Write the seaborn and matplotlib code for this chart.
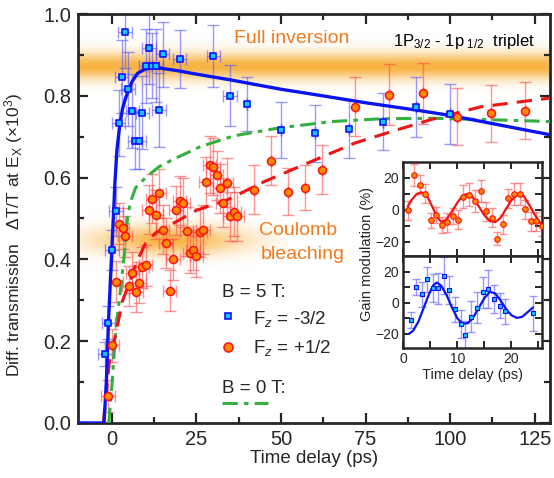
import numpy as np
import matplotlib
matplotlib.use("Agg")
import matplotlib.pyplot as plt
import seaborn as sns

# ---- main panel data ----
blue_t = [-2.0, -1.0, 0.0, 1.2, 2.0, 2.9, 3.9, 4.8, 6.1, 6.9, 8.1, 9.0, 10.0, 11.0,
          12.0, 13.0, 14.0, 15.0, 20.0, 30.0, 35.0, 40.0, 50.0, 60.0, 70.0, 80.0, 90.0, 100.0]
blue_y = [0.169, 0.245, 0.423, 0.518, 0.733, 0.847, 0.957, 0.817, 0.763, 0.690, 0.690, 0.759,
          0.873, 0.918, 0.874, 0.874, 0.765, 0.901, 0.890, 0.897, 0.800, 0.781, 0.717, 0.708,
          0.719, 0.737, 0.772, 0.755]
blue_err = [0.03, 0.04, 0.05, 0.06, 0.08, 0.09, 0.09, 0.09, 0.09, 0.07, 0.07, 0.09, 0.09, 0.09,
            0.08, 0.09, 0.09, 0.08, 0.07, 0.075, 0.075, 0.066, 0.068, 0.07, 0.07, 0.07, 0.073, 0.073]

red_t = [-1.1, 0.1, 1.2, 2.1, 3.2, 3.9, 5.1, 6.1, 7.1, 8.1, 9.0, 10.0, 11.0, 12.0, 13.0, 14.0,
         15.0, 15.9, 17.1, 18.1, 18.9, 20.0, 21.0, 22.1, 23.0, 24.0, 25.0, 26.0, 26.9, 27.9,
         28.9, 29.9, 31.0, 31.9, 32.9, 33.9, 35.0, 36.1, 37.1, 42.0, 47.0, 52.0, 57.0, 62.0,
         72.0, 82.0, 92.0, 102.0, 112.0, 122.0]
red_y = [0.066, 0.190, 0.345, 0.487, 0.476, 0.457, 0.335, 0.367, 0.321, 0.343, 0.381, 0.386,
         0.521, 0.548, 0.509, 0.562, 0.472, 0.440, 0.323, 0.400, 0.520, 0.543, 0.538, 0.469,
         0.416, 0.423, 0.408, 0.466, 0.472, 0.590, 0.632, 0.627, 0.606, 0.574, 0.539, 0.588,
         0.505, 0.517, 0.506, 0.570, 0.641, 0.566, 0.575, 0.619, 0.773, 0.803, 0.806, 0.749,
         0.757, 0.764]
red_err = [0.04, 0.04, 0.05, 0.05, 0.05, 0.05, 0.05, 0.05, 0.05, 0.05, 0.05, 0.05,
           0.06, 0.06, 0.06, 0.06, 0.06, 0.06, 0.05, 0.05, 0.06, 0.06, 0.06, 0.06,
           0.05, 0.05, 0.05, 0.06, 0.06, 0.06, 0.07, 0.07, 0.06, 0.06, 0.06, 0.06,
           0.06, 0.06, 0.06, 0.06, 0.06, 0.057, 0.055, 0.06, 0.072, 0.075, 0.075, 0.07,
           0.07, 0.07]
early_xerr = 2.0

# fitted curves
fit_blue_t = [-10, -2.3, -1.6, -1.0, 0.0, 0.5, 0.9, 1.5, 2.4, 3.2, 4.1, 5.0, 6.0, 7.6, 10.0,
              13.0, 19.0, 25.0, 35.0, 50.0, 60.0, 75.0, 90.0, 100.0, 115.0, 130.0]
fit_blue_y = [0.0, 0.0, 0.105, 0.245, 0.423, 0.51, 0.586, 0.667, 0.733, 0.77, 0.795, 0.815,
              0.835, 0.855, 0.866, 0.869, 0.862, 0.853, 0.839, 0.816, 0.803, 0.783, 0.765,
              0.752, 0.728, 0.704]
fit_red_t = [-2.5, -0.8, 1.0, 3.2, 5.6, 7.1, 10.0, 13.0, 19.0, 25.0, 34.0, 45.0, 60.0,
             72.0, 84.0, 94.0, 109.0, 130.0]
fit_red_y = [0.0, 0.146, 0.211, 0.30, 0.35, 0.39, 0.44, 0.465, 0.492, 0.52, 0.545, 0.59,
             0.643, 0.685, 0.716, 0.741, 0.773, 0.795]
fit_green_t = [-0.9, 0.0, 1.2, 2.2, 3.4, 4.1, 4.6, 5.5, 7.0, 10.0, 14.0, 19.0, 26.0, 36.0,
               47.0, 50.0, 65.0, 80.0, 95.0, 114.0, 130.0]
fit_green_y = [0.0, 0.09, 0.23, 0.30, 0.39, 0.45, 0.50, 0.54, 0.575, 0.60, 0.627, 0.648,
               0.675, 0.702, 0.718, 0.722, 0.737, 0.744, 0.745, 0.741, 0.737]

# ---- inset data ----
in_red_t = [0.93, 1.98, 3.1, 4.0, 5.07, 6.05, 7.1, 8.15, 9.1, 10.2, 11.1, 12.2, 13.3, 14.3,
            15.3, 16.4, 17.4, 18.4, 19.4, 20.5, 21.5, 22.5, 23.6, 24.6, 25.6]
in_red_y = [-0.4, 22.0, 15.8, 10.0, -6.7, -3.1, -9.4, -7.7, -4.0, -6.3, 8.3, 9.6, 5.4, 11.6,
            -0.9, -5.0, -18.1, -9.2, 7.3, 10.0, 10.0, 0.2, -7.1, -7.1, -10.2]
in_red_err = [6, 7, 6, 6, 5, 5, 5, 6, 5, 6, 7, 7, 7, 7, 6, 6, 4, 6, 6, 7, 7, 6, 6, 6, 6]
in_blue_t = [1.36, 2.35, 3.4, 4.45, 5.4, 6.5, 7.5, 8.5, 9.6, 10.6, 11.5, 12.5, 13.6, 14.7,
             15.7, 16.7, 17.8, 18.8, 23.96]
in_blue_y = [-11.2, 10.3, 5.4, 15.0, 9.3, 9.3, 17.4, 8.2, -4.3, -13.7, -20.8, -9.0, -3.2,
             6.7, 8.8, 2.4, -1.9, -5.4, -6.8]
in_blue_err = [5, 5, 8, 8, 9, 10, 12, 9, 8, 9, 9, 10, 10, 10, 12, 9, 8, 8, 11]

in_fit_red_t = [0.8, 1.5, 2.5, 3.4, 4.5, 5.5, 6.3, 7.1, 8.0, 9.0, 10.0, 11.0, 11.8, 12.8,
                14.0, 15.0, 16.0, 17.0, 18.0, 19.0, 20.0, 21.3, 22.3, 23.3, 24.3, 25.3, 26.0]
in_fit_red_y = [2, 6, 10, 11, 8, 1, -5, -7.7, -6, -1, 4.5, 9, 10, 8, 2, -3.5, -7, -7.7,
                -5, 0.5, 6, 10, 8.5, 3, -3, -8, -10]
in_fit_blue_t = [1.0, 1.8, 2.8, 3.8, 4.8, 5.5, 6.2, 7.0, 8.0, 9.0, 10.0, 11.0, 12.0, 13.0,
                 14.0, 15.0, 16.0, 17.0, 18.0, 19.0, 20.0, 21.0, 22.0, 23.0, 24.0]
in_fit_blue_y = [-20, -18, -12, -3, 6, 11, 13, 11, 5, -3, -10, -13.5, -13, -9, -3, 3, 7,
                 6, 1.5, -4, -8, -9.7, -9, -6, -3]

ORANGE_GLOW = (0.97, 0.65, 0.13)
TXT_ORANGE = "#f47a1f"
BLUE = "#0a14f0"
RED = "#f01414"
GREEN = "#33b040"

sns.set_style("ticks")
plt.rcParams['font.family'] = ['Liberation Sans', 'DejaVu Sans']
plt.rcParams['mathtext.fontset'] = 'custom'
plt.rcParams['mathtext.rm'] = 'Liberation Sans'
plt.rcParams['mathtext.it'] = 'Liberation Sans:italic'

fig = plt.figure(figsize=(5.54, 4.78), dpi=100)
ax = fig.add_axes([0.1408, 0.1151, 0.852, 0.8556])

# orange glows
band_y = np.linspace(0.78, 0.96, 200)
band_a = np.exp(-((band_y - 0.872) / 0.032) ** 2) * 0.85
band = np.zeros((200, 2, 4))
band[..., :3] = ORANGE_GLOW
band[..., 3] = band_a[:, None]
ax.imshow(band, extent=[-10, 130, 0.78, 0.96], origin='lower', aspect='auto',
          interpolation='bilinear', zorder=0)
gx, gy = np.meshgrid(np.linspace(-16, 52, 200), np.linspace(0.35, 0.55, 120))
glow = np.zeros((120, 200, 4))
glow[..., :3] = ORANGE_GLOW
glow[..., 3] = 0.85 * np.exp(-((gx - 17) / 22.0) ** 2 - ((gy - 0.447) / 0.035) ** 2)
ax.imshow(glow, extent=[-16, 52, 0.35, 0.55], origin='lower', aspect='auto',
          interpolation='bilinear', zorder=0)

bt = np.array(blue_t)
rt = np.array(red_t)
ax.errorbar(blue_t, blue_y, yerr=blue_err, xerr=np.where(bt < 40, early_xerr, 0),
            fmt='none', ecolor=(0.35, 0.35, 1.0, 0.6), elinewidth=1.0, capsize=4.5, zorder=2)
ax.errorbar(red_t, red_y, yerr=red_err, xerr=np.where(rt < 40, early_xerr, 0),
            fmt='none', ecolor=(1.0, 0.3, 0.3, 0.6), elinewidth=1.0, capsize=4.5, zorder=2)

sns.lineplot(x=fit_green_t, y=fit_green_y, ax=ax, color=GREEN, lw=2.2, sort=False,
             estimator=None, linestyle=(0, (5, 2, 1.5, 2)), zorder=3)
sns.lineplot(x=fit_red_t, y=fit_red_y, ax=ax, color=RED, lw=2.2, sort=False,
             estimator=None, linestyle=(0, (5, 3)), zorder=3)
sns.lineplot(x=fit_blue_t, y=fit_blue_y, ax=ax, color=BLUE, lw=2.4, sort=False,
             estimator=None, zorder=4)

sns.scatterplot(x=red_t, y=red_y, ax=ax, marker='o', s=33, color='#ff8a00',
                edgecolor='#ff1010', linewidth=1.1, zorder=5)
sns.scatterplot(x=blue_t, y=blue_y, ax=ax, marker='s', s=20, color='#10c8ff',
                edgecolor='#1010ff', linewidth=1.2, zorder=6)

ax.set_xlim(-10, 129.5)
ax.set_ylim(0, 1.0)
ax.set_xticks([0, 25, 50, 75, 100, 125])
ax.set_xticks([12.5, 37.5, 62.5, 87.5, 112.5], minor=True)
ax.set_yticks([0.0, 0.2, 0.4, 0.6, 0.8, 1.0])
ax.set_yticks([0.1, 0.3, 0.5, 0.7, 0.9], minor=True)
ax.yaxis.set_major_formatter(matplotlib.ticker.FormatStrFormatter('%.1f'))
ax.tick_params(which='both', direction='in', top=True, right=True, width=1.6,
               labelsize=14.5, pad=5)
ax.tick_params(which='major', length=7)
ax.tick_params(which='minor', length=4)
for s in ax.spines.values():
    s.set_linewidth(2.0)
ax.set_xlabel('Time delay (ps)', fontsize=13.5, labelpad=1)
ax.set_ylabel('Diff. transmission   ΔT/T at E$_\\mathrm{X}$ (×10$^3$)', fontsize=12.5)
ax.yaxis.set_label_coords(-0.112, 0.46)

# annotations
ax.text(0.33, 0.929, 'Full inversion', color=TXT_ORANGE, fontsize=14, transform=ax.transAxes)
ax.text(0.667, 0.922, '1P$_{3/2}$ - 1p$_{\\ 1/2}$  triplet', color='black', fontsize=12,
        transform=ax.transAxes)
ax.text(0.383, 0.46, 'Coulomb', color=TXT_ORANGE, fontsize=14, transform=ax.transAxes)
ax.text(0.386, 0.40, 'bleaching', color=TXT_ORANGE, fontsize=14, transform=ax.transAxes)

# legend block
ax.text(0.305, 0.308, 'B = 5 T:', fontsize=13.5, transform=ax.transAxes)
ax.plot([0.318], [0.262], marker='s', ms=5, mfc='#10c8ff', mec='#1010ff', mew=1.2,
        transform=ax.transAxes, ls='none')
ax.text(0.371, 0.242, 'F$_z$ = -3/2', fontsize=13.5, transform=ax.transAxes)
ax.plot([0.318], [0.187], marker='o', ms=6.5, mfc='#ff8a00', mec='#ff1010', mew=1.1,
        transform=ax.transAxes, ls='none')
ax.text(0.371, 0.171, 'F$_z$ = +1/2', fontsize=13.5, transform=ax.transAxes)
ax.text(0.305, 0.073, 'B = 0 T:', fontsize=13.5, transform=ax.transAxes)
ax.plot([0.306, 0.402], [0.049, 0.049], color=GREEN, lw=2.2, ls=(0, (5, 2, 1.5, 2)),
        transform=ax.transAxes)

# ---- inset ----
ax_top = fig.add_axes([0.728, 0.4644, 0.2498, 0.1967])
ax_bot = fig.add_axes([0.728, 0.2720, 0.2498, 0.1924], sharex=ax_top)

ax_top.errorbar(in_red_t, in_red_y, yerr=in_red_err, fmt='none',
                ecolor=(1.0, 0.3, 0.3, 0.6), elinewidth=1.0, capsize=3)
sns.lineplot(x=in_fit_red_t, y=in_fit_red_y, ax=ax_top, color=RED, lw=1.6,
             sort=False, estimator=None)
sns.scatterplot(x=in_red_t, y=in_red_y, ax=ax_top, marker='o', s=16, color='#ff8a00',
                edgecolor='#ff1010', linewidth=0.8, zorder=5, clip_on=True)

ax_bot.errorbar(in_blue_t, in_blue_y, yerr=in_blue_err, fmt='none',
                ecolor=(0.35, 0.35, 1.0, 0.6), elinewidth=1.0, capsize=3)
sns.lineplot(x=in_fit_blue_t, y=in_fit_blue_y, ax=ax_bot, color=BLUE, lw=1.6,
             sort=False, estimator=None)
sns.scatterplot(x=in_blue_t, y=in_blue_y, ax=ax_bot, marker='s', s=9, color='#10c8ff',
                edgecolor='#1010ff', linewidth=0.8, zorder=5)

for a in (ax_top, ax_bot):
    a.set_xlim(0, 25.6)
    a.set_ylim(-29, 30)
    a.set_yticks([-20, 0, 20])
    a.set_yticks([-10, 10], minor=True)
    a.set_xticks([0, 10, 20])
    a.set_xticks([5, 15, 25], minor=True)
    a.tick_params(which='both', direction='in', top=True, right=True, width=1.4,
                  labelsize=10, pad=3)
    a.tick_params(which='major', length=5)
    a.tick_params(which='minor', length=5)
    for s in a.spines.values():
        s.set_linewidth(1.8)
    a.set_ylabel('')
ax_top.tick_params(labelbottom=False)
ax_bot.set_xlabel('Time delay (ps)', fontsize=10.5, labelpad=1)
fig.text(0.662, 0.468, 'Gain modulation (%)', rotation=90, fontsize=10.5,
         ha='center', va='center')

fig.savefig('out.png', dpi=100)
